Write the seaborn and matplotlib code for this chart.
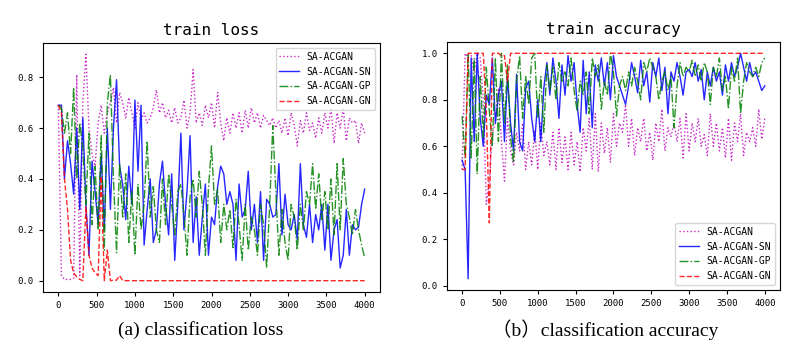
import numpy as np
import pandas as pd
import matplotlib
matplotlib.use('Agg')
import matplotlib.pyplot as plt
import seaborn as sns

# ==============================
# DATA (one point every 40 steps)
# ==============================
steps = list(range(0, 4001, 40))
labels = ['SA-ACGAN', 'SA-ACGAN-SN', 'SA-ACGAN-GP', 'SA-ACGAN-GN']

loss_acgan = [
    0.69, 0.02, 0.005, 0.005, 0.005, 0.01, 0.81, 0.02, 0.70, 0.89,
    0.60, 0.50, 0.45, 0.62, 0.69, 0.58, 0.66, 0.70, 0.76, 0.62,
    0.74, 0.70, 0.64, 0.72, 0.66, 0.60, 0.70, 0.63, 0.66, 0.62,
    0.64, 0.68, 0.75, 0.66, 0.70, 0.64, 0.67, 0.62, 0.68, 0.62,
    0.64, 0.71, 0.60, 0.66, 0.83, 0.62, 0.66, 0.61, 0.69, 0.64,
    0.70, 0.60, 0.74, 0.62, 0.55, 0.64, 0.58, 0.66, 0.60, 0.66,
    0.58, 0.67, 0.60, 0.68, 0.62, 0.66, 0.60, 0.65, 0.63, 0.61,
    0.64, 0.60, 0.63, 0.58, 0.64, 0.57, 0.66, 0.61, 0.53, 0.63,
    0.58, 0.66, 0.59, 0.62, 0.56, 0.64, 0.58, 0.66, 0.60, 0.68,
    0.54, 0.66, 0.60, 0.68, 0.55, 0.64, 0.62, 0.63, 0.54, 0.62,
    0.58]
loss_sn = [
    0.69, 0.69, 0.40, 0.55, 0.46, 0.34, 0.60, 0.28, 0.64, 0.30,
    0.10, 0.47, 0.35, 0.22, 0.50, 0.20, 0.60, 0.28, 0.60, 0.79,
    0.45, 0.38, 0.24, 0.45, 0.30, 0.71, 0.43, 0.69, 0.14, 0.28,
    0.40, 0.15, 0.20, 0.38, 0.47, 0.30, 0.18, 0.42, 0.08, 0.30,
    0.58, 0.20, 0.35, 0.57, 0.15, 0.33, 0.10, 0.25, 0.38, 0.10,
    0.25, 0.22, 0.37, 0.45, 0.42, 0.30, 0.35, 0.30, 0.08, 0.38,
    0.25, 0.28, 0.43, 0.20, 0.30, 0.15, 0.35, 0.08, 0.32, 0.30,
    0.25, 0.26, 0.46, 0.18, 0.34, 0.22, 0.20, 0.26, 0.16, 0.46,
    0.22, 0.17, 0.30, 0.15, 0.26, 0.20, 0.30, 0.12, 0.30, 0.08,
    0.20, 0.24, 0.05, 0.10, 0.28, 0.10, 0.22, 0.20, 0.21, 0.30,
    0.36]
loss_gp = [
    0.69, 0.68, 0.58, 0.66, 0.50, 0.76, 0.40, 0.62, 0.52, 0.30,
    0.58, 0.22, 0.45, 0.20, 0.57, 0.12, 0.70, 0.81, 0.40, 0.11,
    0.46, 0.25, 0.42, 0.15, 0.35, 0.10, 0.38, 0.20, 0.30, 0.55,
    0.25, 0.37, 0.20, 0.15, 0.40, 0.22, 0.42, 0.30, 0.18, 0.35,
    0.38, 0.26, 0.10, 0.33, 0.40, 0.25, 0.43, 0.30, 0.10, 0.36,
    0.53, 0.30, 0.36, 0.15, 0.30, 0.20, 0.28, 0.13, 0.32, 0.22,
    0.08, 0.30, 0.12, 0.25, 0.20, 0.10, 0.30, 0.22, 0.05, 0.30,
    0.61, 0.35, 0.10, 0.28, 0.15, 0.08, 0.30, 0.25, 0.12, 0.30,
    0.20, 0.35, 0.30, 0.46, 0.28, 0.42, 0.24, 0.35, 0.20, 0.40,
    0.18, 0.46, 0.20, 0.48, 0.30, 0.25, 0.18, 0.28, 0.20, 0.14,
    0.09]
loss_gn = [
    0.69, 0.66, 0.40, 0.28, 0.08, 0.03, 0.015, 0.005, 0.0, 0.29,
    0.10, 0.05, 0.03, 0.02, 0.41, 0.0, 0.12, 0.0, 0.002, 0.002,
    0.02, 0.0, 0.0, 0.0, 0.0, 0.0, 0.0, 0.0, 0.0, 0.0,
    0.0, 0.0, 0.0, 0.0, 0.0, 0.0, 0.0, 0.0, 0.0, 0.0,
    0.0, 0.0, 0.0, 0.0, 0.0, 0.0, 0.0, 0.0, 0.0, 0.0,
    0.0, 0.0, 0.0, 0.0, 0.0, 0.0, 0.0, 0.0, 0.0, 0.0,
    0.0, 0.0, 0.0, 0.0, 0.0, 0.0, 0.0, 0.0, 0.0, 0.0,
    0.0, 0.0, 0.0, 0.0, 0.0, 0.0, 0.0, 0.0, 0.0, 0.0,
    0.0, 0.0, 0.0, 0.0, 0.0, 0.0, 0.0, 0.0, 0.0, 0.0,
    0.0, 0.0, 0.0, 0.0, 0.0, 0.0, 0.0, 0.0, 0.0, 0.0,
    0.0]

acc_acgan = [
    0.50, 1.00, 0.98, 0.99, 0.92, 1.00, 0.98, 0.80, 0.35, 0.45,
    0.66, 0.70, 0.85, 0.62, 0.45, 0.72, 0.58, 0.52, 0.66, 0.58,
    0.70, 0.50, 0.62, 0.52, 0.67, 0.50, 0.70, 0.56, 0.62, 0.52,
    0.66, 0.50, 0.68, 0.53, 0.64, 0.50, 0.66, 0.52, 0.62, 0.49,
    0.68, 0.58, 0.72, 0.50, 0.74, 0.49, 0.70, 0.57, 0.68, 0.53,
    0.74, 0.60, 0.70, 0.66, 0.78, 0.60, 0.72, 0.56, 0.68, 0.62,
    0.72, 0.58, 0.66, 0.54, 0.70, 0.62, 0.76, 0.58, 0.68, 0.64,
    0.70, 0.62, 0.72, 0.55, 0.74, 0.58, 0.70, 0.62, 0.72, 0.60,
    0.65, 0.56, 0.74, 0.60, 0.70, 0.58, 0.68, 0.55, 0.72, 0.54,
    0.70, 0.62, 0.74, 0.56, 0.66, 0.62, 0.68, 0.60, 0.76, 0.63,
    0.72]
acc_sn = [
    0.54, 0.50, 0.03, 0.98, 0.62, 1.00, 0.72, 0.60, 0.82, 0.78,
    0.98, 0.70, 0.82, 0.88, 0.62, 0.90, 0.70, 0.58, 0.91, 0.62,
    0.58, 0.85, 0.88, 0.72, 0.62, 0.80, 0.62, 0.85, 0.96, 0.82,
    0.98, 0.88, 0.72, 0.95, 0.82, 0.99, 0.88, 0.96, 0.78, 0.66,
    0.97, 0.74, 0.92, 0.68, 0.95, 0.88, 0.98, 0.86, 0.96, 0.80,
    0.99, 0.90, 0.86, 0.82, 0.78, 0.86, 0.96, 0.90, 0.83, 0.97,
    0.86, 0.92, 0.79, 0.96, 0.90, 0.98, 0.84, 0.94, 0.74, 0.92,
    0.88, 0.96, 0.90, 0.82, 0.92, 0.93, 0.90, 0.96, 0.88, 0.93,
    0.80, 0.92, 0.86, 0.94, 0.88, 0.92, 0.82, 0.95, 0.88, 0.96,
    0.90, 0.94, 1.00, 0.94, 0.88, 0.96, 0.90, 0.92, 0.88, 0.84,
    0.86]
acc_gp = [
    0.73, 0.55, 1.00, 0.55, 0.98, 0.48, 0.90, 0.64, 0.94, 0.75,
    0.60, 0.98, 0.62, 1.00, 0.70, 0.95, 0.64, 0.53, 0.88, 0.99,
    0.72, 0.90, 0.78, 0.98, 1.00, 0.72, 0.90, 0.66, 0.95, 0.84,
    0.94, 0.80, 0.96, 0.88, 0.92, 0.86, 0.98, 0.84, 0.75, 0.88,
    0.82, 0.92, 0.74, 0.98, 0.90, 0.95, 0.76, 0.88, 0.82, 1.00,
    0.92, 0.73, 0.86, 0.90, 0.84, 0.92, 0.86, 0.94, 0.88, 0.80,
    0.96, 0.92, 0.98, 0.94, 0.90, 0.80, 0.88, 0.92, 0.84, 0.90,
    0.68, 0.86, 0.96, 0.90, 0.94, 0.92, 0.97, 0.90, 0.95, 0.88,
    0.96, 0.92, 0.78, 0.94, 0.90, 0.98, 0.84, 0.90, 0.76, 0.94,
    0.88, 0.98, 0.74, 0.88, 0.96, 0.92, 0.90, 0.94, 0.90, 0.96,
    0.98]
acc_gn = [
    0.50, 0.50, 1.00, 1.00, 1.00, 1.00, 1.00, 1.00, 0.75, 0.27,
    1.00, 1.00, 1.00, 0.99, 0.99, 0.88, 1.00, 1.00, 1.00, 1.00,
    1.00, 1.00, 1.00, 1.00, 1.00, 1.00, 1.00, 1.00, 1.00, 1.00,
    1.00, 1.00, 1.00, 1.00, 1.00, 1.00, 1.00, 1.00, 1.00, 1.00,
    1.00, 1.00, 1.00, 1.00, 1.00, 1.00, 1.00, 1.00, 1.00, 1.00,
    1.00, 1.00, 1.00, 1.00, 1.00, 1.00, 1.00, 1.00, 1.00, 1.00,
    1.00, 1.00, 1.00, 1.00, 1.00, 1.00, 1.00, 1.00, 1.00, 1.00,
    1.00, 1.00, 1.00, 1.00, 1.00, 1.00, 1.00, 1.00, 1.00, 1.00,
    1.00, 1.00, 1.00, 1.00, 1.00, 1.00, 1.00, 1.00, 1.00, 1.00,
    1.00, 1.00, 1.00, 1.00, 1.00, 1.00, 1.00, 1.00, 1.00, 1.00,
    1.00]

# ==============================
# STYLE
# ==============================
MONO = 'DejaVu Sans Mono'
SERIF = ['Liberation Serif', 'Noto Sans CJK SC']
plt.rcParams['font.family'] = [MONO]
STYLES = [('m', ':'), ('b', '-'), ('g', '-.'), ('r', '--')]

fig = plt.figure(figsize=(8.01, 3.52), dpi=100)
ax1 = fig.add_axes([0.0537, 0.1705, 0.4207, 0.7074])
ax2 = fig.add_axes([0.558, 0.1761, 0.4157, 0.7045])


def draw(ax, series, title, loc):
    for (color, ls), lab, vals in zip(STYLES, labels, series):
        sns.lineplot(x=steps, y=vals, ax=ax, color=color, linestyle=ls,
                     linewidth=1.0, alpha=0.85, label=lab)
    ax.set_title(title, fontsize=11.5, family=MONO, pad=6)
    ax.set_xticks([0, 500, 1000, 1500, 2000, 2500, 3000, 3500, 4000])
    ax.tick_params(labelsize=6.5, length=3, width=0.8)
    ax.legend(loc=loc, fontsize=7, framealpha=0.8)
    ax.set_xlabel('')
    ax.set_ylabel('')


# ── (a) classification loss ──
draw(ax1, [loss_acgan, loss_sn, loss_gp, loss_gn], 'train loss', 'upper right')
ax1.set_yticks([0.0, 0.2, 0.4, 0.6, 0.8])

# ── (b) classification accuracy ──
draw(ax2, [acc_acgan, acc_sn, acc_gp, acc_gn], 'train accuracy', 'lower right')
ax2.set_yticks([0.0, 0.2, 0.4, 0.6, 0.8, 1.0])

fig.text(0.25, 0.062, '(a) classification loss', ha='center', va='center',
         fontsize=14, family=SERIF)
fig.text(0.755, 0.062, '（b）classification accuracy', ha='center', va='center',
         fontsize=14, family=SERIF)

fig.savefig('out.png', dpi=100, facecolor='white')
plt.close(fig)
